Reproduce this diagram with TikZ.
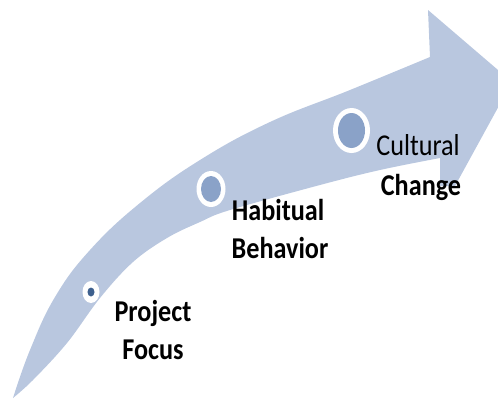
\documentclass[tikz,border=0pt]{standalone}
\usepackage{fontspec}
\setmainfont{Carlito}
\definecolor{bandblue}{RGB}{185,199,223}
\definecolor{dotblue}{RGB}{138,162,200}
\definecolor{darkdot}{RGB}{62,96,142}
\newcommand{\tallt}[1]{\scalebox{0.97}[1.12]{#1}}
\begin{document}
\begin{tikzpicture}[x=1pt,y=-1pt,
  lbl/.style={inner sep=0pt, outer sep=0pt, anchor=base, font=\fontsize{27}{30}\selectfont\bfseries, text=black},
  lblr/.style={lbl, font=\fontsize{27}{30}\selectfont}]
\useasboundingbox (0,0) rectangle (498,400);
\clip (0,0) rectangle (498,400);
% arrow band
\fill[bandblue] plot[smooth, tension=0.7] coordinates {(13,398) (30,350) (55,297) (90,250) (140,203) (200,160) (270,122) (350,90) (430,57)}
  -- (428,10) -- (512,82) -- (455,186) -- (440,186) -- (440,158)
  -- plot[smooth, tension=0.6] coordinates {(440,158) (380,170) (320,185) (230,210) (200,222) (167,238) (133,262) (100,298) (67,343) (33,380) (13,398)} -- cycle;
% markers
\coordinate (cpf) at (91,292);
\coordinate (chb) at (211,189);
\coordinate (ccc) at (351.5,130.5);
\fill[white] (cpf) ellipse [x radius=8.5, y radius=11];
\fill[darkdot] (cpf) ellipse [x radius=3.5, y radius=4.5];
\fill[white] (chb) ellipse [x radius=14.5, y radius=18];
\fill[dotblue] (chb) ellipse [x radius=10, y radius=13];
\fill[white] (ccc) ellipse [x radius=18.5, y radius=22.5];
\fill[dotblue] (ccc) ellipse [x radius=13.5, y radius=17.5];
% labels
\node[lbl] (pf1) at (153,321) {\tallt{Project}};
\node[lbl] (pf2) at (153,359) {\tallt{Focus}};
\node[lbl] (hb1) at (278,220) {\tallt{Habitual}};
\node[lbl] (hb2) at (280,258) {\tallt{Behavior}};
\node[lblr] (cc1) at (418,155) {\tallt{Cultural}};
\node[lbl] (cc2) at (421,195) {\tallt{Change}};
\end{tikzpicture}
\end{document}
